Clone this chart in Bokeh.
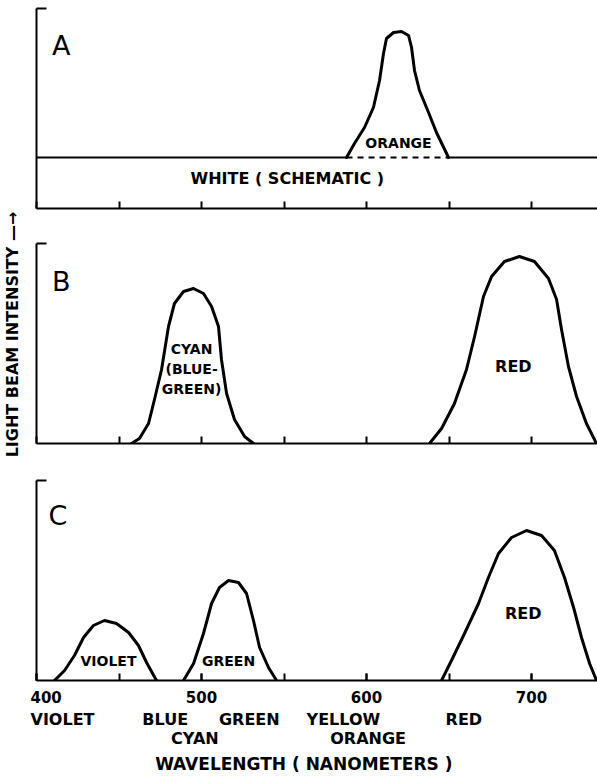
import math
from bokeh.plotting import figure
from bokeh.layouts import row, column
from bokeh.models import Range1d, FixedTicker, LinearAxis
from bokeh.core.properties import value
from bokeh.embed import file_html
from bokeh.resources import INLINE

# ---------------- data (wavelength nm, relative intensity) ----------------
major_wl = [400, 500, 600, 700]
minor_wl = [400, 450, 500, 550, 600, 650, 700]

# Panel A: white light (schematic) plus an orange peak
white_level = 51
orange_wl = [587.9, 592.7, 598.8, 604.2, 607.9, 610.3, 612.1, 616.4, 621.2, 625.5,
             627.3, 629.1, 632.1, 637.6, 642.4, 649.7]
orange_int = [51, 65, 81, 101, 128, 155, 170, 176, 177, 173, 161, 138, 118, 96, 76, 51]

# Panel B: cyan + red
cyan_wl = [457.6, 462.4, 467.9, 471.5, 475.8, 480.0, 483.6, 489.1, 495.2, 501.2,
           506.1, 510.3, 512.1, 515.2, 520.0, 526.1, 531.5]
cyan_int = [0, 5, 20, 44, 74, 117, 140, 152, 155, 150, 137, 117, 84, 50, 24, 7, 0]
redb_wl = [638.2, 645.5, 653.3, 660.6, 665.5, 670.9, 675.8, 683.6, 692.7, 701.8,
           710.3, 715.2, 718.2, 722.4, 727.3, 733.3, 739.4]
redb_int = [0, 15, 40, 74, 107, 147, 167, 182, 187, 182, 165, 144, 114, 77, 47, 20, 0]

# Panel C: violet + green + red
violet_wl = [410.9, 417.0, 423.0, 428.5, 434.5, 441.2, 448.5, 455.8, 461.8, 466.7, 472.7]
violet_int = [0, 10, 25, 43, 55, 60, 57, 48, 35, 18, 0]
green_wl = [489.1, 495.2, 501.2, 506.1, 510.9, 516.4, 522.4, 527.3, 531.5, 535.2, 540.6, 545.5]
green_int = [0, 17, 47, 77, 93, 100, 98, 87, 60, 33, 13, 0]
redc_wl = [645.5, 651.5, 659.4, 667.9, 673.9, 680.0, 687.9, 697.0, 706.1, 713.9,
           720.0, 725.5, 730.3, 735.2, 739.4]
redc_int = [0, 20, 47, 77, 103, 127, 143, 150, 145, 130, 103, 73, 43, 17, 0]

# colour names under the wavelength axis
line1_wl = [413, 478, 529, 586, 659]
line1_names = ["VIOLET", "BLUE", "GREEN", "YELLOW", "RED"]
line2_wl = [496, 601]
line2_names = ["CYAN", "ORANGE"]
title_wl = [562]
title_names = ["WAVELENGTH ( NANOMETERS )"]

FONT = value("DejaVu Sans")
X0, X1 = 400, 740
YMAX = 200


def make_panel(top_border, bottom_border, show_labels=False):
    p = figure(frame_width=561, frame_height=200,
               x_range=Range1d(X0, X1), y_range=Range1d(0, YMAX),
               output_backend="svg", toolbar_location=None,
               min_border_left=6, min_border_right=0,
               min_border_top=top_border, min_border_bottom=bottom_border)
    p.outline_line_color = None
    p.grid.visible = False
    p.background_fill_color = "white"
    p.border_fill_color = "white"
    # x axis with inward ticks (drawn as minor ticks so no empty labels)
    xa = p.xaxis[0]
    xa.ticker = FixedTicker(ticks=major_wl if show_labels else [], minor_ticks=minor_wl)
    xa.axis_line_width = 2
    xa.axis_line_color = "black"
    xa.major_tick_in = 7
    xa.major_tick_out = 0
    xa.major_tick_line_width = 2
    xa.minor_tick_in = 7
    xa.minor_tick_out = 0
    xa.minor_tick_line_width = 2
    xa.major_label_text_font = "DejaVu Sans"
    xa.major_label_text_font_style = "bold"
    xa.major_label_text_font_size = "15px"
    xa.major_label_text_color = "black"
    xa.major_label_standoff = 10
    # left axis: bracket shape
    ya = p.yaxis[0]
    ya.ticker = FixedTicker(ticks=[], minor_ticks=[YMAX])
    ya.axis_line_width = 2
    ya.axis_line_color = "black"
    ya.major_tick_line_color = None
    ya.minor_tick_in = 10
    ya.minor_tick_out = 0
    ya.minor_tick_line_width = 2
    ya.major_label_standoff = 0
    return p


def lbl(p, x, y, t, size, bold=True):
    p.text(x=x, y=y, text=t, text_font=FONT,
           text_font_style="bold" if bold else "normal",
           text_font_size=size, text_align="center", text_baseline="middle",
           text_color="black")


LW = 3


def curve(p, xs, ys):
    p.line(xs, ys, line_width=LW, color="black", line_join="round", line_cap="round")


# ---------------- Panel A ----------------
pa = make_panel(8, 17)
pa.line([X0, orange_wl[0]], [white_level, white_level], line_width=2, color="black")
pa.line([orange_wl[-1], X1], [white_level, white_level], line_width=2, color="black")
pa.line([orange_wl[0], orange_wl[-1]], [white_level, white_level], line_width=2,
        color="black", line_dash="6 5")
curve(pa, orange_wl, orange_int)
lbl(pa, [415], [163], ["A"], "27px", bold=False)
lbl(pa, [619.4], [66], ["ORANGE"], "14px")
lbl(pa, [552], [30], ["WHITE ( SCHEMATIC )"], "16px")

# ---------------- Panel B ----------------
pb = make_panel(18, 17)
curve(pb, cyan_wl, cyan_int)
curve(pb, redb_wl, redb_int)
lbl(pb, [415], [162], ["B"], "27px", bold=False)
lbl(pb, [494, 494, 494], [95, 75, 55], ["CYAN", "(BLUE-", "GREEN)"], "14px")
lbl(pb, [689], [77], ["RED"], "16px")

# ---------------- Panel C ----------------
pc = make_panel(20, 10, show_labels=True)
curve(pc, violet_wl, violet_int)
curve(pc, green_wl, green_int)
curve(pc, redc_wl, redc_int)
lbl(pc, [413], [165], ["C"], "27px", bold=False)
lbl(pc, [443.6], [20], ["VIOLET"], "14px")
lbl(pc, [516.4], [20], ["GREEN"], "14px")
lbl(pc, [695], [67], ["RED"], "16px")


def name_axis(ticks, names, size, standoff):
    ax = LinearAxis(ticker=FixedTicker(ticks=ticks),
                    major_label_overrides=dict(zip(ticks, names)))
    ax.axis_line_color = None
    ax.major_tick_line_color = None
    ax.minor_tick_line_color = None
    ax.major_tick_in = 0
    ax.major_tick_out = 0
    ax.major_label_text_font = "DejaVu Sans"
    ax.major_label_text_font_style = "bold"
    ax.major_label_text_font_size = size
    ax.major_label_text_color = "black"
    ax.major_label_standoff = standoff
    return ax


pc.add_layout(name_axis(line1_wl, line1_names, "16px", 4), "below")
pc.add_layout(name_axis(line2_wl, line2_names, "16px", -3), "below")
pc.add_layout(name_axis(title_wl, title_names, "17px", 3), "below")

# ---------------- y label strip ----------------
py = figure(width=30, height=776, x_range=Range1d(0, 30), y_range=Range1d(0, 776),
            output_backend="svg", toolbar_location=None,
            x_axis_location=None, y_axis_location=None, min_border=0)
py.outline_line_color = None
py.grid.visible = False
py.text(x=[12], y=[442], text=["LIGHT BEAM INTENSITY \u2014\u2192"], angle=math.pi / 2,
        text_font=FONT, text_font_style="bold", text_font_size="16px",
        text_align="center", text_baseline="middle", text_color="black")

layout = row(py, column(pa, pb, pc))
open("out.html", "w").write(file_html(layout, INLINE))
